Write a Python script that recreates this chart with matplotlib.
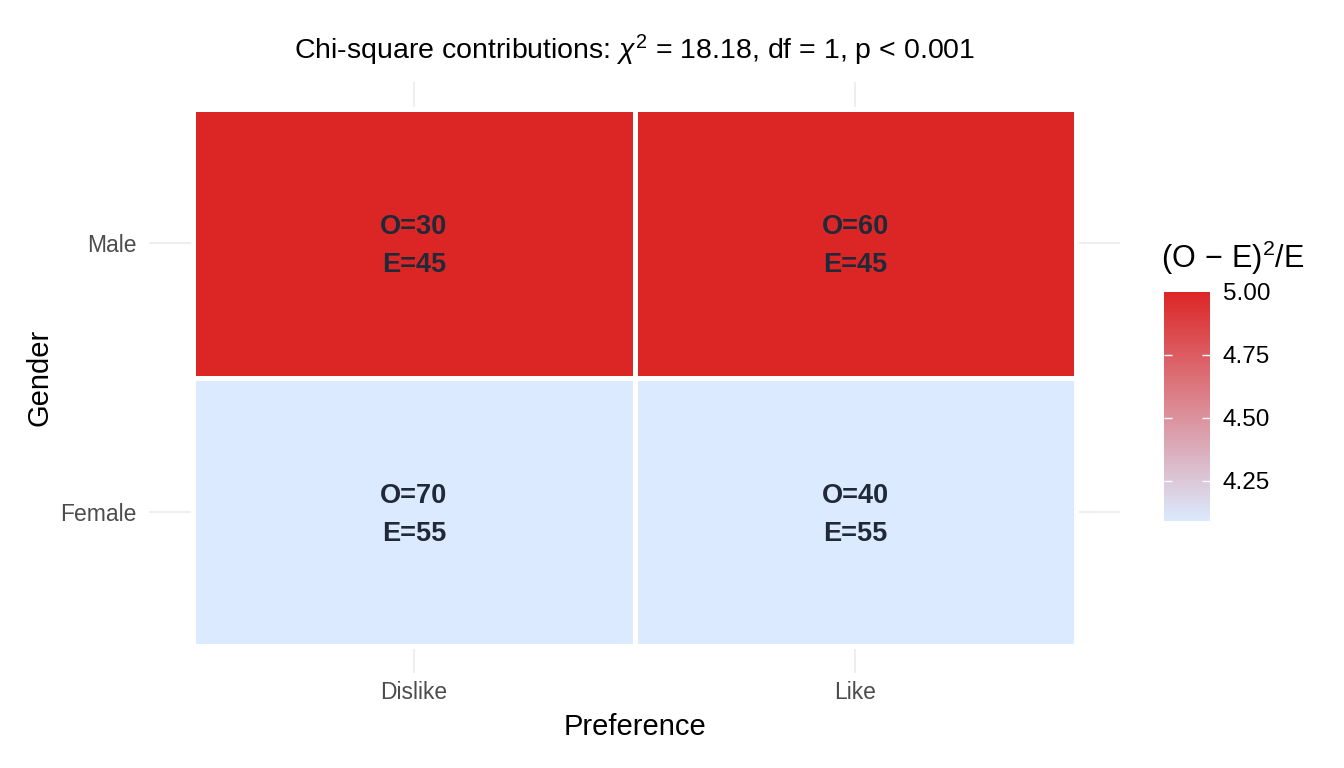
import numpy as np
import matplotlib
matplotlib.use("Agg")
import matplotlib.pyplot as plt
from matplotlib.colors import LinearSegmentedColormap, Normalize

plt.rcParams['font.family'] = ['Liberation Sans', 'DejaVu Sans']
plt.rcParams['mathtext.fontset'] = 'custom'
plt.rcParams['mathtext.rm'] = 'Liberation Sans'
plt.rcParams['mathtext.it'] = 'Liberation Sans:italic'

# data
preference = ["Dislike", "Like"]
gender = ["Female", "Male"]
observed = np.array([[70, 40],
                     [30, 60]])
expected = np.array([[55, 55],
                     [45, 45]])
contrib = (observed - expected) ** 2 / expected

cmap = LinearSegmentedColormap.from_list("chi", ["#dbeafe", "#dc2626"])
norm = Normalize(vmin=contrib.min(), vmax=contrib.max())

fig = plt.figure(figsize=(13.44, 7.68), dpi=100)
ax = fig.add_axes([149/1344, (768-673)/768, (1120-149)/1344, (673-82)/768])

# grid lines
for i in range(len(preference)):
    ax.axvline(i, color="#ebebeb", lw=1.2, zorder=0)
for j in range(len(gender)):
    ax.axhline(j, color="#ebebeb", lw=1.2, zorder=0)

xe = np.arange(len(preference) + 1) - 0.5
ye = np.arange(len(gender) + 1) - 0.5
ax.pcolormesh(xe, ye, contrib, cmap=cmap, norm=norm,
              edgecolor="white", linewidth=2.2, zorder=1)

for j in range(len(gender)):
    for i in range(len(preference)):
        ax.text(i, j - 0.01, "O=%d\nE=%d" % (observed[j, i], expected[j, i]),
                ha="center", va="center", multialignment="center",
                fontsize=19.5, fontweight="bold",
                color="#1f2937", linespacing=1.6, zorder=2)

ax.set_xlim(-0.6, 1.6)
ax.set_ylim(-0.6, 1.6)
ax.set_xticks(range(len(preference)))
ax.set_xticklabels(preference)
ax.set_yticks(range(len(gender)))
ax.set_yticklabels(gender)
ax.tick_params(axis="x", length=0, labelsize=16.5, labelcolor="#4d4d4d", pad=6)
ax.tick_params(axis="y", length=0, labelsize=16.5, labelcolor="#4d4d4d", pad=9)
for s in ax.spines.values():
    s.set_visible(False)
ax.set_xlabel("Preference", fontsize=21, labelpad=6)
ax.set_ylabel("Gender", fontsize=21, labelpad=5)
ax.set_title(r"Chi-square contributions: $\chi^2$ = 18.18, df = 1, p < 0.001",
             fontsize=20.5, pad=16)

# colorbar
cax = fig.add_axes([1164/1344, (768-521)/768, 46/1344, 229/768])
sm = plt.cm.ScalarMappable(cmap=cmap, norm=norm)
cb = fig.colorbar(sm, cax=cax)
cb.outline.set_visible(False)
cb.set_ticks([4.25, 4.5, 4.75, 5.0])
cb.set_ticklabels(["4.25", "4.50", "4.75", "5.00"])
cax.tick_params(direction="in", left=True, right=True, length=6, width=1,
                color="white", labelcolor="black", labelsize=17.5, pad=9)
top_tick = cax.yaxis.get_major_ticks()[-1]
top_tick.tick1line.set_visible(False)
top_tick.tick2line.set_visible(False)
fig.text(1161/1344, (768-258)/768, r"$(\mathrm{O}\,-\,\mathrm{E})^2/\mathrm{E}$",
         fontsize=22, ha="left", va="center")

fig.savefig("out.png", dpi=100, facecolor="white")
